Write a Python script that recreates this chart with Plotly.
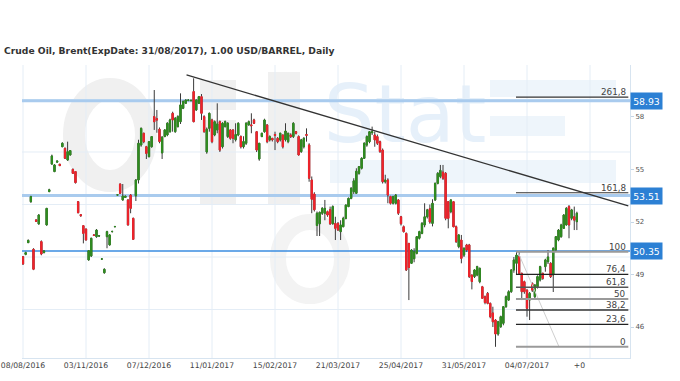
import plotly.graph_objects as go

title_text = "Crude Oil, Brent(ExpDate: 31/08/2017), 1.00 USD/BARREL, Daily"

opens = [
    50.02, 50.15, 50.82, 53.16, 50.44, 52.12, 51.89, 50.88, 50.26, 51.83,
    53.74, 55.31, 54.88, 55.42, 55.30, 56.30, 56.21, 55.54, 55.83, 55.01,
    54.88, 53.16, 52.42, 51.79, 51.60, 49.83, 50.06, 51.26, 51.16, 51.20,
    49.88, 49.10, 51.16, 50.69, 51.45, 51.73, 53.54, 54.17, 53.26, 53.40,
    53.26, 53.54, 52.21, 53.50, 54.40, 56.40, 57.07, 56.30, 55.73, 56.30,
    58.02, 57.90, 57.30, 55.95, 56.88, 56.97, 57.16, 58.21, 57.16, 57.45,
    57.73, 58.50, 58.78, 58.95, 58.93, 59.45, 58.40, 58.78, 59.16, 58.02,
    56.00, 57.35, 57.83, 56.97, 57.26, 57.73, 56.30, 57.45, 56.88, 57.26,
    57.26, 56.70, 56.97, 56.88, 56.30, 56.50, 57.55, 57.55, 57.83, 57.16,
    55.60, 56.88, 57.16, 57.54, 56.69, 56.78, 57.00, 56.78, 56.69, 56.97,
    56.70, 56.59, 56.97, 56.88, 57.16, 56.88, 56.02, 56.30, 57.00, 56.40,
    54.40, 53.60, 51.80, 51.90, 52.50, 52.50, 52.59, 52.70, 51.90, 51.92,
    51.92, 51.45, 51.73, 52.21, 52.88, 53.35, 53.73, 53.64, 54.78, 55.07,
    55.64, 56.40, 56.59, 57.10, 56.97, 56.88, 56.59, 56.11, 54.30, 54.40,
    53.45, 53.07, 53.07, 53.26, 52.30, 51.73, 51.35, 50.78, 49.64, 49.90,
    50.21, 51.07, 51.35, 51.83, 52.30, 52.75, 51.92, 53.26, 54.21, 54.60,
    54.85, 54.78, 53.16, 52.59, 53.16, 51.73, 50.59, 50.97, 50.11, 50.69,
    50.69, 48.97, 48.88, 48.97, 48.59, 48.30, 47.73, 47.92, 47.35, 46.80,
    46.40, 45.60, 46.02, 46.21, 47.16, 47.54, 48.02, 49.26, 49.64, 50.02,
    49.07, 48.59, 48.11, 47.54, 48.49, 47.73, 48.30, 48.69, 49.07, 49.45,
    49.73, 49.64, 48.97, 50.40, 50.97, 51.16, 51.64, 51.83, 52.88, 52.21,
    52.30, 52.02,
]
highs = [
    50.05, 50.30, 51.00, 53.50, 50.50, 52.15, 52.45, 50.95, 50.40, 52.80,
    53.90, 55.85, 55.30, 55.50, 55.32, 56.55, 56.25, 56.59, 56.10, 55.05,
    54.90, 53.20, 52.45, 51.80, 51.62, 50.40, 51.10, 51.30, 51.60, 51.25,
    49.92, 49.35, 51.50, 51.30, 51.50, 51.78, 53.60, 54.20, 54.17, 53.50,
    53.30, 53.60, 52.25, 54.45, 56.70, 57.40, 57.10, 56.35, 56.60, 56.90,
    59.54, 58.40, 57.40, 56.90, 57.30, 57.70, 57.90, 58.30, 58.00, 58.10,
    59.35, 58.95, 59.00, 59.00, 58.98, 60.21, 59.00, 59.20, 59.31, 58.10,
    57.40, 58.25, 57.90, 57.80, 58.78, 57.80, 57.70, 57.80, 57.70, 57.30,
    57.30, 57.64, 57.70, 56.95, 56.90, 57.70, 57.80, 58.21, 57.90, 57.20,
    56.50, 57.10, 57.90, 57.60, 56.95, 56.80, 57.16, 56.85, 57.10, 57.00,
    57.64, 57.10, 57.07, 57.70, 57.20, 56.95, 56.75, 56.85, 57.35, 56.50,
    54.60, 53.70, 52.60, 52.60, 52.85, 53.26, 52.65, 52.88, 52.95, 52.30,
    52.00, 52.10, 52.30, 53.00, 53.40, 54.00, 54.50, 55.07, 55.20, 55.70,
    56.55, 56.95, 57.20, 57.45, 57.16, 57.00, 56.65, 56.20, 54.70, 54.50,
    53.50, 53.50, 53.60, 53.30, 52.35, 51.80, 51.40, 50.80, 50.45, 50.50,
    51.20, 51.50, 52.00, 53.07, 52.75, 53.00, 53.30, 54.25, 54.85, 55.26,
    55.26, 54.85, 53.20, 53.30, 53.20, 51.80, 51.30, 51.26, 50.55, 50.75,
    50.75, 49.00, 49.30, 49.50, 49.40, 48.35, 47.80, 48.00, 47.40, 47.16,
    46.45, 46.35, 46.65, 47.20, 47.80, 48.10, 49.30, 50.00, 50.30, 50.30,
    49.10, 48.65, 48.15, 48.00, 48.55, 48.45, 48.95, 49.50, 49.10, 49.90,
    50.40, 49.70, 50.55, 51.20, 51.60, 51.90, 52.45, 52.85, 52.97, 52.75,
    52.88, 52.59,
]
lows = [
    49.55, 50.10, 50.80, 53.10, 49.25, 52.00, 51.85, 50.10, 50.20, 51.80,
    53.70, 55.28, 54.85, 55.40, 55.20, 56.28, 55.60, 55.50, 55.80, 54.75,
    54.20, 52.50, 52.30, 50.78, 50.95, 49.80, 50.00, 51.20, 51.10, 51.15,
    49.85, 49.05, 50.50, 50.65, 51.40, 51.70, 53.50, 53.60, 53.22, 53.38,
    51.80, 52.50, 51.00, 53.20, 54.20, 56.30, 56.50, 55.60, 55.70, 56.25,
    57.26, 57.10, 56.50, 55.60, 56.85, 56.90, 57.10, 57.16, 57.10, 57.40,
    57.60, 58.45, 58.75, 58.90, 58.90, 57.70, 58.35, 58.75, 57.83, 57.10,
    55.90, 57.16, 56.50, 56.90, 57.07, 56.00, 56.20, 57.40, 56.80, 56.70,
    56.50, 56.60, 56.90, 56.20, 56.20, 56.40, 57.50, 57.07, 57.60, 56.00,
    55.50, 56.85, 57.10, 56.50, 56.60, 56.60, 56.11, 56.50, 56.60, 56.20,
    56.60, 56.50, 56.80, 56.80, 57.00, 55.80, 55.95, 56.20, 56.59, 54.30,
    52.50, 52.60, 51.20, 51.20, 52.40, 52.10, 52.30, 51.83, 51.85, 50.97,
    51.50, 50.97, 51.70, 52.15, 52.85, 53.30, 53.60, 53.60, 54.70, 55.00,
    55.60, 56.30, 56.50, 56.97, 56.30, 56.40, 55.95, 54.20, 54.20, 53.07,
    53.00, 53.00, 53.00, 52.40, 51.80, 51.40, 49.20, 47.54, 49.60, 49.70,
    50.15, 51.00, 51.30, 51.70, 52.20, 51.90, 51.75, 53.20, 54.15, 54.50,
    54.40, 52.10, 51.64, 52.50, 51.70, 50.80, 50.50, 49.64, 50.00, 50.30,
    48.80, 48.15, 48.80, 48.90, 48.50, 47.60, 47.30, 47.30, 46.50, 46.00,
    44.87, 45.50, 45.95, 46.10, 47.10, 47.50, 47.95, 49.10, 48.97, 49.00,
    47.54, 47.90, 46.59, 46.40, 48.00, 47.60, 48.20, 48.60, 48.70, 49.16,
    49.60, 48.80, 48.00, 50.30, 50.90, 51.10, 51.60, 51.80, 51.07, 52.10,
    51.54, 51.54,
]
closes = [
    49.60, 50.25, 50.95, 53.45, 49.30, 52.04, 52.40, 50.17, 50.34, 52.78,
    53.84, 55.77, 55.26, 55.48, 55.22, 56.50, 55.64, 56.02, 56.08, 54.78,
    54.25, 52.53, 52.36, 51.35, 50.97, 50.36, 51.07, 51.24, 51.54, 51.21,
    49.89, 49.30, 51.45, 51.26, 51.46, 51.74, 53.55, 53.64, 53.48, 53.48,
    51.83, 52.78, 51.01, 54.40, 56.50, 57.35, 56.59, 55.92, 56.59, 56.88,
    57.73, 57.83, 56.60, 56.85, 57.26, 57.64, 57.83, 57.83, 57.92, 58.02,
    58.69, 58.88, 58.97, 58.97, 58.95, 57.73, 58.97, 59.16, 58.21, 57.16,
    57.30, 58.21, 56.59, 57.73, 57.60, 56.11, 57.64, 57.73, 57.64, 56.78,
    56.78, 57.00, 57.64, 56.30, 56.60, 57.64, 57.73, 57.50, 57.64, 56.11,
    56.50, 57.07, 57.83, 56.59, 56.88, 56.69, 56.95, 56.59, 57.07, 56.30,
    57.20, 57.07, 56.88, 57.64, 57.07, 55.83, 56.69, 56.78, 56.95, 54.50,
    53.30, 52.70, 52.50, 52.55, 52.78, 52.78, 52.40, 51.90, 52.88, 51.64,
    51.54, 51.83, 52.21, 52.97, 53.35, 53.92, 54.35, 54.90, 55.16, 55.64,
    56.50, 56.88, 57.16, 57.15, 56.69, 56.50, 56.02, 54.30, 54.40, 53.54,
    53.07, 53.45, 53.54, 52.50, 51.90, 51.45, 49.26, 49.40, 50.40, 50.30,
    51.16, 51.45, 51.92, 52.30, 52.69, 52.00, 53.07, 54.21, 54.78, 54.95,
    54.50, 52.21, 52.21, 53.26, 51.73, 50.88, 51.26, 49.92, 50.50, 50.40,
    48.88, 48.60, 49.26, 49.45, 49.35, 47.64, 47.40, 47.35, 46.59, 46.30,
    45.60, 46.30, 46.59, 47.16, 47.73, 48.02, 49.26, 49.83, 50.11, 49.07,
    48.02, 48.02, 47.07, 47.92, 48.11, 48.40, 48.88, 49.45, 48.78, 49.83,
    50.00, 48.88, 50.50, 51.16, 51.54, 51.83, 52.40, 52.78, 51.83, 52.69,
    52.11, 52.50,
]

date_labels = ["08/08/2016", "03/11/2016", "07/12/2016", "11/01/2017", "15/02/2017",
               "21/03/2017", "25/04/2017", "31/05/2017", "04/07/2017"]
candles_per_label = 24
future_label = "+0"
future_index = 212

y_ticks = [46, 49, 52, 55, 58]
grid_prices = [47, 50, 53, 56, 59]

price_levels = [58.93, 53.51, 50.35]
price_level_styles = [("#a9cbee", 3), ("#a9cbee", 3), ("#3a8de0", 1.5)]

fib_labels = ["261,8", "161,8", "100", "76,4", "61,8", "50", "38,2", "23,6", "0"]
fib_prices = [59.13, 53.67, 50.30, 49.01, 48.27, 47.60, 46.97, 46.15, 44.87]
fib_colors = ["#333", "#333", "#9a9a9a", "#222", "#555", "#9a9a9a", "#333", "#222", "#9a9a9a"]
fib_widths = [1.2, 1.2, 2, 1.3, 1.6, 2, 1.5, 1.3, 2]
fib_start = 187.8
fib_end = 230.6
fib_diag = [(188.5, 50.30), (204.2, 44.87)]

trend = [(62.3, 60.40), (230.6, 52.92)]

X_RANGE = [-0.38, 231.24]
Y_RANGE = [44.23, 60.97]

x = list(range(len(closes)))
body_hi = [max(o, c) for o, c in zip(opens, closes)]
body_lo = [min(o, c) for o, c in zip(opens, closes)]

WICK = "#3a3a3a"
GREEN = "#2f8d1f"
RED = "#f2232b"

fig = go.Figure()
fig.add_trace(go.Candlestick(
    x=x, open=opens, high=highs, low=lows, close=closes,
    increasing=dict(line=dict(color=WICK, width=1), fillcolor=WICK),
    decreasing=dict(line=dict(color=WICK, width=1), fillcolor=WICK),
    whiskerwidth=0, hoverinfo="skip", showlegend=False))
fig.add_trace(go.Candlestick(
    x=x, open=opens, high=body_hi, low=body_lo, close=closes,
    increasing=dict(line=dict(color=GREEN, width=1), fillcolor=GREEN),
    decreasing=dict(line=dict(color=RED, width=1), fillcolor=RED),
    whiskerwidth=0, showlegend=False))

shapes = []
FONT = "DejaVu Sans, Verdana, sans-serif"


def px_x(p):
    return (p - 22) / 608.0


def px_y(p):
    return (358 - p) / 293.0


# watermark (faint)
WM = "#f0f0f0"
WMB = "#eef5fb"
shapes.append(dict(type="circle", xref="paper", yref="paper", layer="below",
                   x0=px_x(74), x1=px_x(146), y0=px_y(181), y1=px_y(89),
                   line=dict(color=WM, width=22)))
shapes.append(dict(type="rect", xref="paper", yref="paper", layer="below",
                   x0=px_x(200), x1=px_x(236), y0=px_y(205), y1=px_y(120),
                   fillcolor=WM, line=dict(width=0)))
shapes.append(dict(type="rect", xref="paper", yref="paper", layer="below",
                   x0=px_x(200), x1=px_x(236), y0=px_y(110), y1=px_y(80),
                   fillcolor=WM, line=dict(width=0)))
shapes.append(dict(type="rect", xref="paper", yref="paper", layer="below",
                   x0=px_x(268), x1=px_x(300), y0=px_y(205), y1=px_y(72),
                   fillcolor=WM, line=dict(width=0)))
shapes.append(dict(type="circle", xref="paper", yref="paper", layer="below",
                   x0=px_x(278), x1=px_x(342), y0=px_y(296), y1=px_y(222),
                   line=dict(color="#f3f3f3", width=16)))
for (a, b, c, d) in [(490, 616, 80, 97), (490, 565, 116, 136), (330, 616, 160, 183)]:
    shapes.append(dict(type="rect", xref="paper", yref="paper", layer="below",
                       x0=px_x(a), x1=px_x(b), y0=px_y(d), y1=px_y(c),
                       fillcolor=WMB, line=dict(width=0)))
shapes.append(dict(type="rect", xref="paper", yref="paper", layer="below",
                   x0=px_x(325), x1=px_x(485), y0=px_y(145), y1=px_y(72),
                   fillcolor="rgba(0,0,0,0)", line=dict(width=0),
                   label=dict(text="Stat", font=dict(size=80, color="#e6f0fa", family=FONT),
                              textposition="middle center")))

# grid
for k in range(len(date_labels) + 1):
    shapes.append(dict(type="line", xref="x", yref="paper", layer="below",
                       x0=k * candles_per_label, x1=k * candles_per_label, y0=0, y1=1,
                       line=dict(color="#e4edf6", width=1)))
for g in grid_prices:
    shapes.append(dict(type="line", xref="paper", yref="y", layer="below",
                       x0=0, x1=1, y0=g, y1=g, line=dict(color="#e4edf6", width=1)))

# price level lines
for lvl, (col, w) in zip(price_levels, price_level_styles):
    shapes.append(dict(type="line", xref="paper", yref="y", layer="below",
                       x0=0, x1=1, y0=lvl, y1=lvl, line=dict(color=col, width=w)))

# trend line
shapes.append(dict(type="line", xref="x", yref="y",
                   x0=trend[0][0], y0=trend[0][1], x1=trend[1][0], y1=trend[1][1],
                   line=dict(color="#333333", width=1.3)))

# fib lines
shapes.append(dict(type="line", xref="x", yref="y",
                   x0=fib_diag[0][0], y0=fib_diag[0][1], x1=fib_diag[1][0], y1=fib_diag[1][1],
                   line=dict(color="#cfcfcf", width=1)))
for p, col, w in zip(fib_prices, fib_colors, fib_widths):
    shapes.append(dict(type="line", xref="x", yref="y", x0=fib_start, x1=fib_end,
                       y0=p, y1=p, line=dict(color=col, width=w)))

annotations = []
annotations.append(dict(text="<b>" + title_text + "</b>", xref="paper", yref="paper",
                        x=0, y=1, xanchor="left", yanchor="middle", xshift=-20, yshift=15,
                        showarrow=False, font=dict(family=FONT, size=9.2, color="#333333")))
for lab, p in zip(fib_labels, fib_prices):
    annotations.append(dict(text=lab, xref="x", yref="y", x=fib_end - 0.2, y=p,
                            xanchor="right", yanchor="bottom", yshift=-2, showarrow=False,
                            font=dict(family=FONT, size=8.8, color="#444444")))
for lvl in price_levels:
    annotations.append(dict(text=f"{lvl:.2f}", xref="paper", yref="y", x=1, y=lvl,
                            xanchor="left", yanchor="middle", showarrow=False,
                            bgcolor="#2c80d4", width=31, height=16, borderpad=0,
                            font=dict(family=FONT, size=9.3, color="white")))

tickvals = [k * candles_per_label for k in range(len(date_labels))] + [future_index]
ticktext = date_labels + [future_label]

fig.update_layout(
    width=680, height=381,
    margin=dict(l=22, r=50, t=65, b=23, autoexpand=False),
    paper_bgcolor="white", plot_bgcolor="white",
    shapes=shapes, annotations=annotations,
    showlegend=False,
    xaxis=dict(range=X_RANGE, tickvals=tickvals, ticktext=ticktext, automargin=False,
               showgrid=False, zeroline=False, rangeslider=dict(visible=False),
               showline=True, linecolor="#d7e4f0", linewidth=1, ticks="",
               tickfont=dict(family=FONT, size=7.7, color="#444444"), fixedrange=True),
    yaxis=dict(range=Y_RANGE, side="right", tickvals=y_ticks, automargin=False,
               ticktext=[str(t) for t in y_ticks],
               showgrid=False, zeroline=False, showline=True, linecolor="#d7e4f0",
               linewidth=1, ticks="outside", ticklen=3, tickcolor="#c6d6e6",
               tickfont=dict(family=FONT, size=7, color="#555555"), fixedrange=True),
)

fig.write_html("out.html")
